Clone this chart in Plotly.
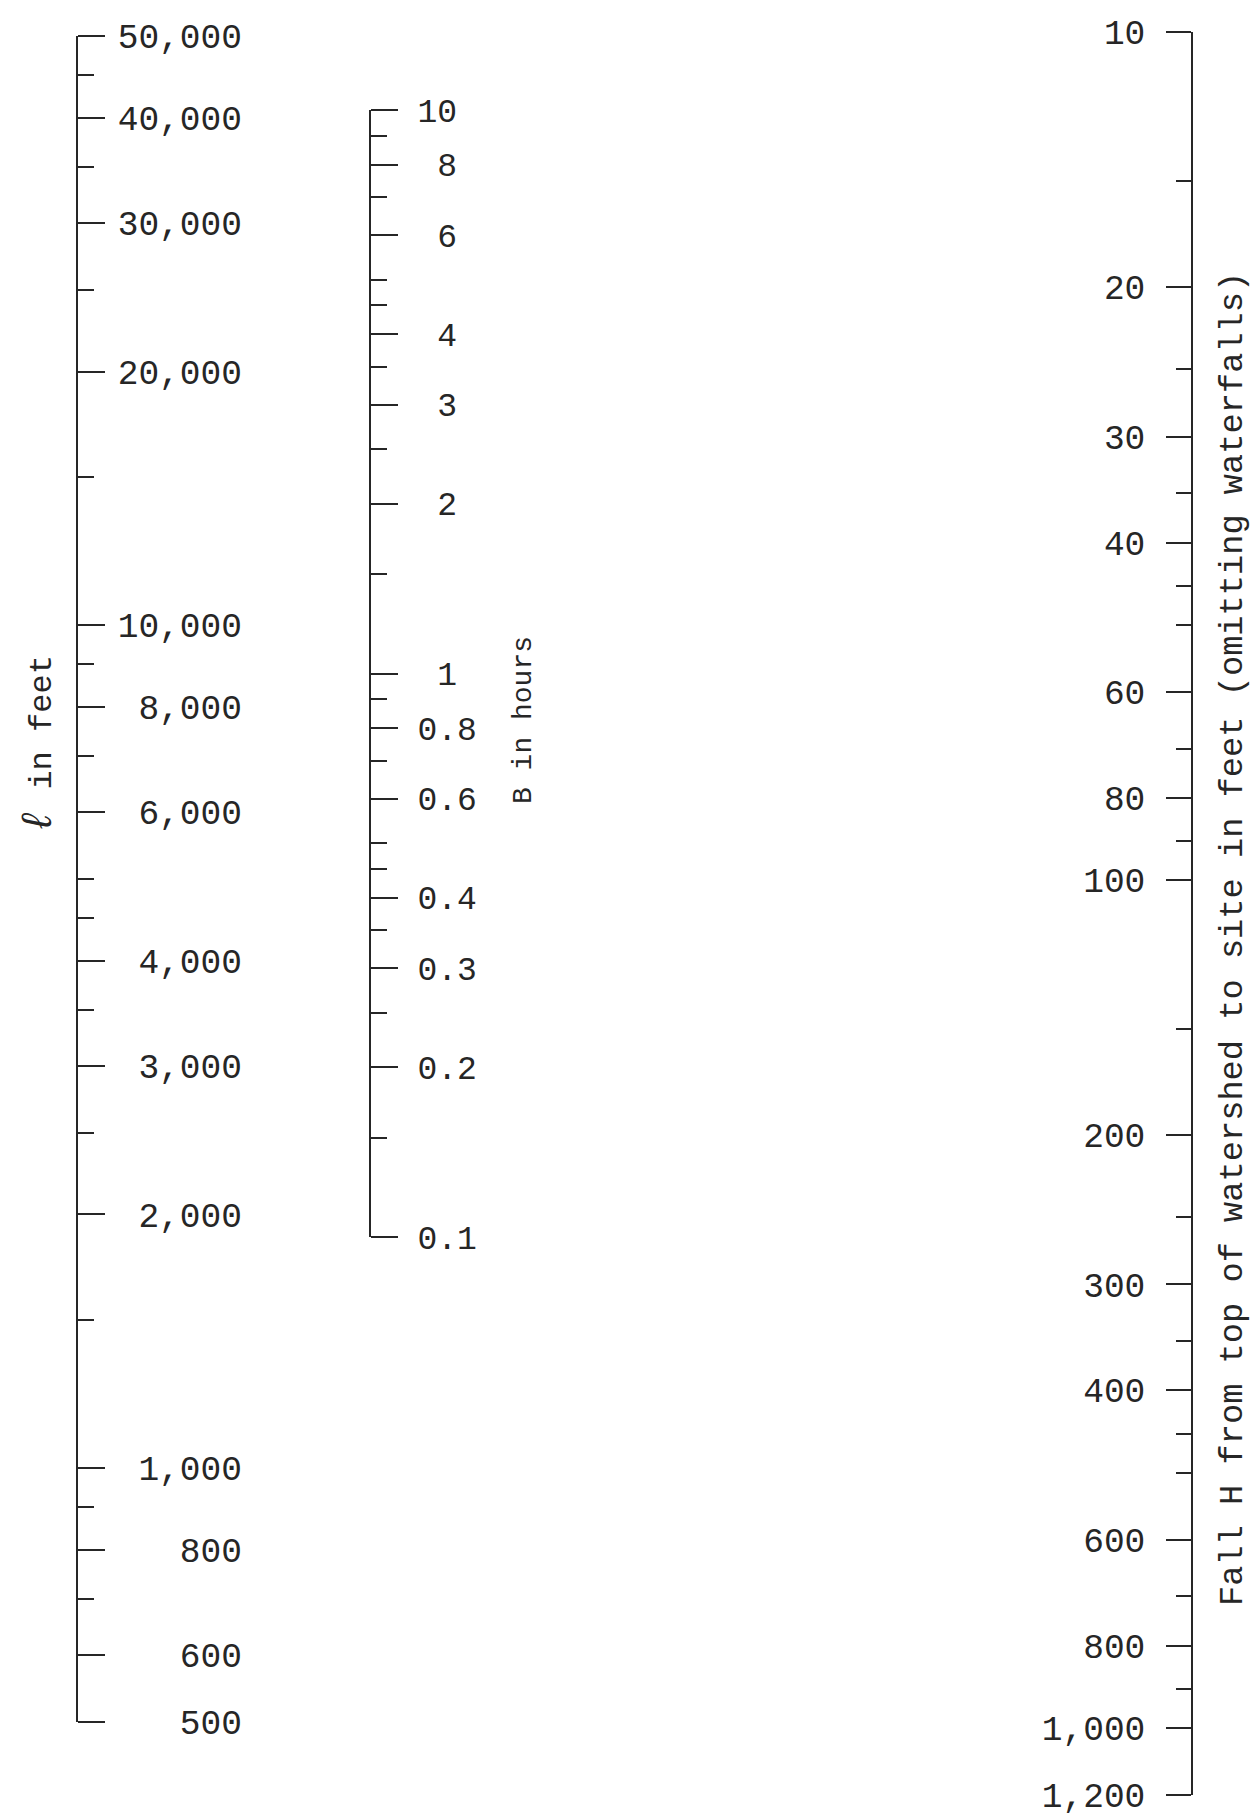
import math
import plotly.graph_objects as go

W, H = 1254, 1816

# ---- data: the three nomograph scales (ascending) ----
L_major = [500, 600, 800, 1000, 2000, 3000, 4000, 6000, 8000, 10000, 20000, 30000, 40000, 50000]
L_labels = ["500", "600", "800", "1,000", "2,000", "3,000", "4,000", "6,000", "8,000",
            "10,000", "20,000", "30,000", "40,000", "50,000"]
L_minor = [700, 900, 1500, 2500, 3500, 4500, 5000, 7000, 9000, 15000, 25000, 35000, 45000]

B_major = [0.1, 0.2, 0.3, 0.4, 0.6, 0.8, 1, 2, 3, 4, 6, 8, 10]
B_labels = ["0.1", "0.2", "0.3", "0.4", "0.6", "0.8", "1", "2", "3", "4", "6", "8", "10"]
B_minor = [0.15, 0.25, 0.35, 0.45, 0.5, 0.7, 0.9, 1.5, 2.5, 3.5, 4.5, 5, 7, 9]

H_major = [10, 20, 30, 40, 60, 80, 100, 200, 300, 400, 600, 800, 1000, 1200]
H_labels = ["10", "20", "30", "40", "60", "80", "100", "200", "300", "400",
            "600", "800", "1,000", "1,200"]
H_minor = [15, 25, 35, 45, 50, 70, 90, 150, 250, 350, 450, 500, 700, 900]

L_title = "<span style='font-size:42px'><i>ℓ</i></span> in feet"
B_title = "B in hours"
H_title = "Fall H from top of watershed to site in feet (omitting waterfalls)"

# ---- styling / layout (pixel geometry) ----
FONT = "Liberation Mono, Courier New, monospace"
INK = "#262626"
LW = 1.6
EPS = 1e-4

def px_x(x):
    return x / W

def dom(top_px, bot_px):
    return [1 - bot_px / H, 1 - top_px / H]

L_x, L_top, L_bot = 76, 36, 1722
B_x, B_top, B_bot = 369, 110, 1237
Hx, H_top, H_bot = 1193, 32, 1795

# monospace column padding: L labels right-aligned, single-char B labels in column 2
NB = "\u00a0"
Lw = max(len(t) for t in L_labels)
L_text = [NB * (Lw - len(t)) + t for t in L_labels]
B_text = [(NB + t) if len(t) == 1 else t for t in B_labels]

fig = go.Figure()

def ghost(vals, xref, yref):
    fig.add_trace(go.Scatter(x=[0.5] * len(vals), y=vals, xaxis=xref, yaxis=yref,
                             mode="markers", marker=dict(opacity=0, size=1),
                             hoverinfo="skip", showlegend=False))

ghost(L_major, "x", "y")
ghost(B_major, "x2", "y2")
ghost(H_major, "x3", "y3")

def yaxis(vals, text, minor, top, bot, xanchor, side, ticklen, minlen, standoff,
          fsize, reverse=False):
    lo, hi = math.log10(min(vals)) - EPS, math.log10(max(vals)) + EPS
    return dict(type="log", showgrid=False, zeroline=False, showline=True,
                linecolor=INK, linewidth=LW, tickcolor=INK, tickwidth=LW,
                tickmode="array", tickvals=vals, ticktext=text,
                anchor=xanchor, side=side, ticklabeloverflow="allow",
                ticks="outside", ticklen=ticklen, ticklabelstandoff=standoff,
                automargin=False, fixedrange=True,
                domain=dom(top, bot), range=[hi, lo] if reverse else [lo, hi],
                tickfont=dict(family=FONT, size=fsize, color=INK),
                minor=dict(tickvals=minor, ticks="outside", ticklen=minlen,
                           tickwidth=LW, tickcolor=INK, showgrid=False))

def xaxis(x0, x1, yanchor):
    return dict(visible=False, range=[0, 1], domain=[px_x(x0), px_x(x1)],
                fixedrange=True, automargin=False, anchor=yanchor)

fig.update_layout(
    template="none",
    width=W, height=H,
    margin=dict(l=0, r=0, t=0, b=0, pad=0, autoexpand=False),
    paper_bgcolor="white", plot_bgcolor="rgba(0,0,0,0)",
    showlegend=False,
    # hidden x-axes only carry the vertical scales: L and B on the right edge,
    # H on the left edge of their (narrow) x-domains
    xaxis=xaxis(L_x - 20, L_x, "y"),
    xaxis2=xaxis(B_x - 20, B_x, "y2"),
    xaxis3=xaxis(Hx, Hx + 20, "y3"),
    yaxis=yaxis(L_major, L_text, L_minor, L_top, L_bot, "x", "right", 27, 16, 6, 34.5),
    yaxis2=yaxis(B_major, B_text, B_minor, B_top, B_bot, "x2", "right", 27, 16, 13, 33),
    yaxis3=yaxis(H_major, H_labels, H_minor, H_top, H_bot, "x3", "left", 25, 15, 14,
                 34.5, reverse=True),
)

def vtitle(text, x, y, size):
    fig.add_annotation(text=text, xref="paper", yref="paper", x=px_x(x), y=1 - y / H,
                       textangle=-90, showarrow=False, xanchor="center", yanchor="middle",
                       font=dict(family=FONT, size=size, color=INK))

vtitle(L_title, 40, 745, 32)
vtitle(B_title, 523, 720, 28)
vtitle(H_title, 1233, 939, 33.7)

fig.write_html("out.html", config={"displayModeBar": False},
               post_script="document.body.style.margin='0';")
